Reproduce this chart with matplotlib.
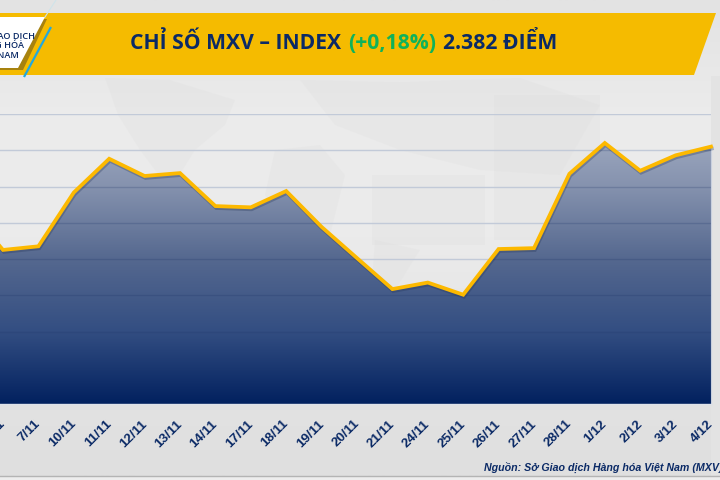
import numpy as np
import matplotlib
matplotlib.use("Agg")
import matplotlib.pyplot as plt
from matplotlib.patches import Polygon, Rectangle
from matplotlib.colors import LinearSegmentedColormap
from matplotlib.transforms import ScaledTranslation
import matplotlib.patheffects as pe

W, H = 720, 480

# Closing values of the MXV index per trading session
dates = ["5/11", "6/11", "7/11", "10/11", "11/11", "12/11", "13/11", "14/11", "17/11",
         "18/11", "19/11", "20/11", "21/11", "24/11", "25/11", "26/11", "27/11",
         "28/11", "1/12", "2/12", "3/12", "4/12"]
index_values = [2348.0, 2325.0, 2327.0, 2356.7, 2375.3, 2365.8, 2367.4, 2349.2, 2348.5,
                2357.5, 2337.7, 2320.5, 2303.4, 2307.0, 2300.3, 2325.5, 2326.0,
                2367.0, 2384.0, 2368.7, 2377.2, 2382.0]
grid_levels = [2260, 2280, 2300, 2320, 2340, 2360, 2380, 2400]
faded_levels = [2280, 2300, 2320, 2340, 2360, 2380]

NAVY = "#0b2a66"
GOLD = "#f5bb00"
LINE = "#fdb900"

fig = plt.figure(figsize=(W / 100, H / 100), dpi=100, facecolor="#e6e6e6")

# Full-canvas layer in pixel coordinates for the page furniture
page = fig.add_axes([0, 0, 1, 1], zorder=0)
page.axis("off")

bg = np.linspace(0, 1, 200).reshape(-1, 1)
bg_cmap = LinearSegmentedColormap.from_list(
    "page", ["#e3e3e3", "#ececec", "#ebebeb", "#e4e4e4", "#dfdfdf"])
page.imshow(bg, extent=[0, W, 476, 0], cmap=bg_cmap, aspect="auto", zorder=0)
page.set_xlim(0, W)
page.set_ylim(H, 0)

# Faint continents behind the chart
land = [
    [(105, 78), (170, 80), (235, 100), (225, 125), (195, 150), (170, 190), (140, 150), (118, 115)],
    [(275, 150), (320, 145), (345, 175), (330, 235), (300, 250), (265, 195)],
    [(300, 80), (400, 82), (520, 78), (600, 105), (560, 175), (480, 170), (400, 150), (335, 125)],
    [(372, 175), (485, 175), (485, 245), (372, 245)],
    [(494, 95), (600, 95), (600, 240), (494, 240)],
    [(375, 240), (420, 250), (395, 290), (372, 280)],
]
for shape in land:
    page.add_patch(Polygon(shape, closed=True, fc="#d6d6d6", ec="none", alpha=0.16, zorder=1))
page.add_patch(Rectangle((711, 76), 9, 400, fc="#e3e3e3", ec="none", zorder=1))
page.add_patch(Rectangle((0, 476), W, 4, fc="#ededed", ec="none", zorder=1))
page.plot([0, W], [475.5, 475.5], color="#b4b4b4", lw=1.0, zorder=2)

# Title banner
page.add_patch(Polygon([(0, 13), (716, 13), (694, 75), (0, 75)], closed=True,
                       fc=GOLD, ec="none", zorder=3))
page.add_patch(Polygon([(0, 19), (47, 19), (23, 70), (0, 70)], closed=True,
                       fc="#8d6f14", ec="none", alpha=0.75, zorder=3))
page.add_patch(Polygon([(0, 17), (45, 17), (18, 68), (0, 68)], closed=True,
                       fc="white", ec="none", zorder=4))
page.plot([24, 51], [77, 27], color="#21a8e0", lw=1.6, zorder=4, solid_capstyle="butt")
page.plot([45, 56], [17, 0], color="#cfe3ea", lw=0.8, zorder=4)
logo_font = {"family": "Open Sans", "fontsize": 6.6, "fontweight": "semibold",
             "color": NAVY, "zorder": 5, "va": "center", "ha": "right", "clip_on": True}
page.text(35, 35.5, "GIAO DỊCH", **logo_font)
page.text(24, 45.5, "HÀNG HÓA", **logo_font)
page.text(19, 55, "VIỆT NAM", **logo_font)

title_font = {"family": "Open Sans", "fontsize": 15.2, "fontweight": "bold",
              "va": "center", "ha": "left", "zorder": 5}
page.text(130, 43.5, "CHỈ SỐ MXV – INDEX", color=NAVY, **title_font)
page.text(348.5, 43.5, "(+0,18%)", color="#10b25a", **title_font)
page.text(443, 43.5, "2.382 ĐIỂM", color=NAVY, **title_font)

# Chart area: one category step is 35.4 px, the first sessions run off the left edge
x_idx = np.arange(len(dates))
step = 35.4
x_left = 711 - step * (len(dates) - 1)
top_px, bottom_px = 114, 404
ax = fig.add_axes([x_left / W, 1 - bottom_px / H, (711 - x_left) / W, (bottom_px - top_px) / H],
                  zorder=1)
ax.patch.set_alpha(0)

# Gridlines sit behind the area; darker copies show through it
for level in grid_levels:
    ax.axhline(level, color="#c2cad8", lw=1.0, zorder=1)

# Navy gradient under the line, strongest at the bottom
fill_cmap = LinearSegmentedColormap.from_list(
    "fill", ["#a8b2c6", "#8592ae", "#55688f", "#334e82", "#02215f"])
gradient = np.linspace(0, 1, 256).reshape(-1, 1)
img = ax.imshow(gradient, extent=[0, len(dates) - 1, 2240, 2400], cmap=fill_cmap,
                aspect="auto", zorder=2, origin="upper", interpolation="bilinear")
clip = Polygon(np.column_stack([np.r_[x_idx, x_idx[-1], x_idx[0]],
                                np.r_[index_values, 2240, 2240]]),
               closed=True, transform=ax.transData, fc="none", ec="none")
ax.add_patch(clip)
img.set_clip_path(clip)
for level in faded_levels:
    inner = ax.axhline(level, color="#1c3468", alpha=0.22, lw=1.0, zorder=3)
    inner.set_clip_path(clip)
ax.set_xlim(0, len(dates) - 1)
ax.set_ylim(2240, 2400)

ax.plot(x_idx, index_values, color=LINE, lw=2.7, zorder=5, solid_joinstyle="miter",
        clip_on=False,
        path_effects=[pe.SimpleLineShadow(offset=(0.6, -1.4), shadow_color="#223355", alpha=0.3),
                      pe.Normal()])

# Thin pale edge along the bottom and right of the area
for side in ["top", "left"]:
    ax.spines[side].set_visible(False)
ax.spines["right"].set_bounds(2240, index_values[-1])
ax.spines["right"].set_color("#c9d0de")
ax.spines["right"].set_linewidth(0.8)
ax.spines["bottom"].set_color("#dfe3ea")
ax.spines["bottom"].set_linewidth(1.0)
ax.set_yticks([])
ax.set_xticks(x_idx)
ax.set_xticklabels(dates, rotation=45, ha="right", rotation_mode="anchor",
                   fontsize=9.6, fontweight="bold", color=NAVY, family="Liberation Sans")
ax.tick_params(axis="x", length=0, pad=10)
label_shift = ScaledTranslation(-4 / 100, 0, fig.dpi_scale_trans)
for label in ax.get_xticklabels():
    label.set_transform(label.get_transform() + label_shift)

page.text(484, 467.5, "Nguồn: Sở Giao dịch Hàng hóa Việt Nam (MXV)", ha="left", va="center",
          fontsize=7.7, fontweight="bold", style="italic", color=NAVY,
          family="Liberation Sans", zorder=6, clip_on=True)

fig.savefig("out.png", dpi=100)
